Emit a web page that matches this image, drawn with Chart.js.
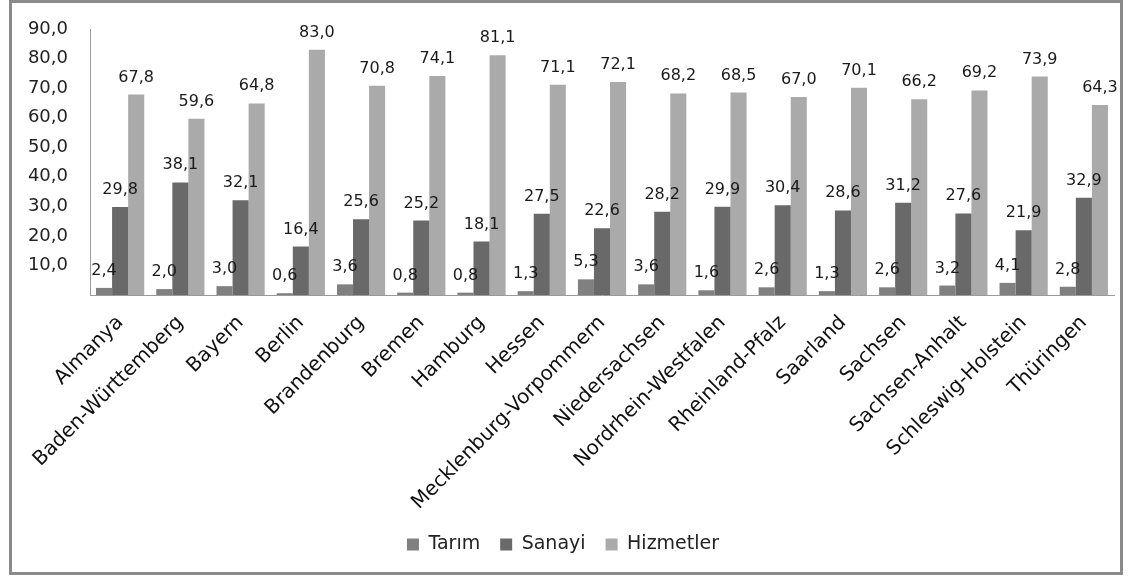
<!DOCTYPE html>
<html>
<head>
<meta charset="utf-8">
<script src="https://cdn.jsdelivr.net/npm/chart.js@4/dist/chart.umd.min.js"></script>
<style>
  html, body { margin: 0; padding: 0; background: #fff; }
  #frame {
    position: absolute; left: 9px; top: 0px; width: 1114px; height: 575px;
    border: 3px solid #8a8a8a; box-sizing: border-box; background: #fff;
  }
  #chart { display: block; }
</style>
</head>
<body>
<div id="frame"><canvas id="chart" width="1108" height="569"></canvas></div>
<script>
const states = [
  "Almanya", "Baden-Württemberg", "Bayern", "Berlin", "Brandenburg", "Bremen",
  "Hamburg", "Hessen", "Mecklenburg-Vorpommern", "Niedersachsen",
  "Nordrhein-Westfalen", "Rheinland-Pfalz", "Saarland", "Sachsen",
  "Sachsen-Anhalt", "Schleswig-Holstein", "Thüringen"
];
const tarim = [2.4, 2.0, 3.0, 0.6, 3.6, 0.8, 0.8, 1.3, 5.3, 3.6, 1.6, 2.6, 1.3, 2.6, 3.2, 4.1, 2.8];
const sanayi = [29.8, 38.1, 32.1, 16.4, 25.6, 25.2, 18.1, 27.5, 22.6, 28.2, 29.9, 30.4, 28.6, 31.2, 27.6, 21.9, 32.9];
const hizmetler = [67.8, 59.6, 64.8, 83.0, 70.8, 74.1, 81.1, 71.1, 72.1, 68.2, 68.5, 67.0, 70.1, 66.2, 69.2, 73.9, 64.3];
const seriesNames = ["Tarım", "Sanayi", "Hizmetler"];
const yMax = 90;
const yStep = 10;

const fmt = (v) => v.toFixed(1).replace(".", ",");

// draws the value above every bar, like Excel data labels
const barLabels = {
  id: "barLabels",
  afterDatasetsDraw(chart) {
    const ctx = chart.ctx;
    ctx.save();
    ctx.font = "16px 'DejaVu Sans'";
    ctx.fillStyle = "#1a1a1a";
    ctx.textAlign = "center";
    ctx.textBaseline = "alphabetic";
    chart.data.datasets.forEach((ds, i) => {
      chart.getDatasetMeta(i).data.forEach((bar, j) => {
        ctx.fillText(fmt(ds.data[j]), bar.x, bar.y - 13);
      });
    });
    ctx.restore();
  }
};

new Chart(document.getElementById("chart"), {
  type: "bar",
  data: {
    labels: states,
    datasets: [
      { label: seriesNames[0], data: tarim, backgroundColor: "#808080" },
      { label: seriesNames[1], data: sanayi, backgroundColor: "#696969" },
      { label: seriesNames[2], data: hizmetler, backgroundColor: "#aaaaaa" }
    ]
  },
  options: {
    responsive: false,
    animation: false,
    devicePixelRatio: 1,
    layout: { padding: { top: 26, right: 6, bottom: 8, left: 0 } },
    datasets: { bar: { categoryPercentage: 0.8, barPercentage: 1.0 } },
    plugins: {
      tooltip: { enabled: false },
      legend: {
        position: "bottom",
        labels: {
          font: { family: "'DejaVu Sans'", size: 19 },
          color: "#222",
          boxWidth: 12,
          boxHeight: 12,
          padding: 20
        }
      }
    },
    scales: {
      x: {
        grid: { display: false },
        border: { display: true, color: "#9a9a9a", width: 1 },
        ticks: {
          font: { family: "'DejaVu Sans'", size: 20 },
          color: "#111",
          minRotation: 45,
          maxRotation: 45,
          autoSkip: false,
          padding: 8
        },
        afterFit(scale) { scale.height = 220; }
      },
      y: {
        min: 0,
        max: yMax,
        grid: { display: false },
        border: { display: true, color: "#9a9a9a", width: 1 },
        ticks: {
          stepSize: yStep,
          font: { family: "'DejaVu Sans'", size: 18 },
          color: "#222",
          padding: 14,
          callback: (v) => (v === 0 ? "" : fmt(v))
        },
        afterFit(scale) { scale.width = 78; }
      }
    }
  },
  plugins: [barLabels]
});
</script>
</body>
</html>
